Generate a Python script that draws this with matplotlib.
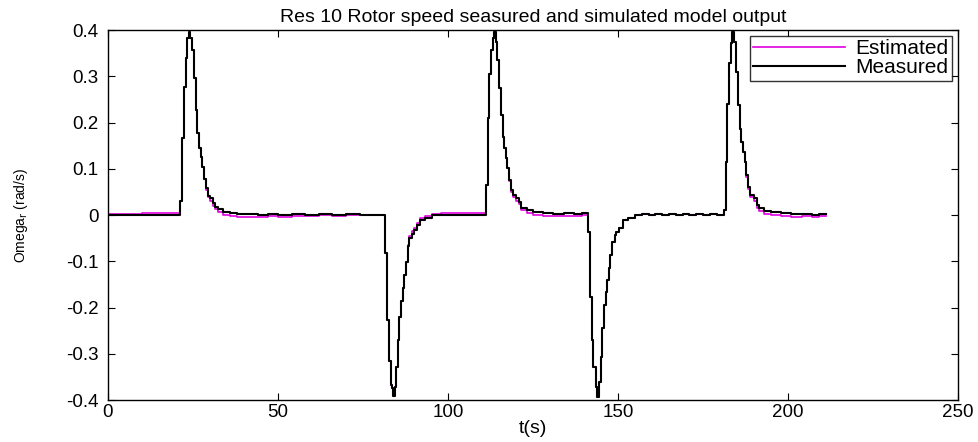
import matplotlib
matplotlib.use("Agg")
import matplotlib.pyplot as plt

plt.rcParams['font.family'] = ['Liberation Sans', 'DejaVu Sans']

# step breakpoints (s) and values
t = [0, 5, 10, 15, 18,
     21.2, 21.9, 22.5, 22.9, 23.3, 23.7, 24.1, 24.7, 25.2, 25.8, 26.3, 26.8, 27.3, 27.7,
     28.3, 28.8, 29.3, 30.0, 30.8, 31.5, 32.4, 33.9, 35.8, 38, 41, 44, 47, 50, 54, 58,
     62, 66, 70, 74, 78,
     81.5, 82.2, 82.6, 83.1, 83.6, 83.9, 84.4, 84.8, 85.2, 85.7, 86.2, 86.7, 87.1, 87.6,
     88.1, 88.6, 89.3, 90.0, 90.8, 91.8, 93.2, 95.2, 98, 101, 104, 107, 110,
     111.2, 111.7, 112.1, 112.6, 113.1, 113.6, 114.0, 114.5, 115.1, 115.6, 116.1, 116.6,
     117.1, 117.5, 118.0, 118.5, 119.2, 120.1, 120.9, 121.6, 123.1, 125.0, 128, 131, 134,
     137, 139.5,
     141.2, 141.7, 142.4, 142.8, 143.4, 143.9, 144.4, 144.9, 145.4, 145.9, 146.4, 146.8,
     147.4, 147.8, 148.3, 149.0, 149.4, 150.4, 151.4, 152.9, 154.9, 157, 159, 161, 163,
     165, 167, 169, 171, 173, 175, 177, 179,
     181.1, 181.7, 182.1, 182.6, 183.1, 183.6, 184.1, 184.6, 185.3, 185.8, 186.3, 186.8,
     187.3, 187.7, 188.2, 188.9, 190.0, 191.0, 191.6, 193.1, 195.1, 198, 201, 204, 207,
     209, 211.3]

measured = [0.0, 0.001, 0.0, 0.001, 0.0,
            0.031, 0.166, 0.277, 0.339, 0.382, 0.396, 0.382, 0.357, 0.296, 0.227, 0.177, 0.146, 0.126, 0.104,
            0.079, 0.058, 0.042, 0.036, 0.025, 0.018, 0.013, 0.007, 0.004, 0.002, 0.003, 0.001, 0.003, 0.001, 0.002, 0.001,
            0.002, 0.001, 0.002, 0.001, 0.001,
            -0.083, -0.227, -0.316, -0.368, -0.373, -0.391, -0.371, -0.328, -0.270, -0.220, -0.186, -0.157, -0.130, -0.101,
            -0.068, -0.050, -0.040, -0.033, -0.022, -0.011, -0.006, -0.001, 0.000, 0.001, 0.000, 0.001, 0.001,
            0.065, 0.209, 0.306, 0.357, 0.382, 0.395, 0.375, 0.335, 0.274, 0.216, 0.169, 0.144,
            0.123, 0.101, 0.076, 0.054, 0.043, 0.037, 0.029, 0.016, 0.011, 0.007, 0.004, 0.003, 0.004,
            0.003, 0.004,
            -0.036, -0.177, -0.270, -0.328, -0.371, -0.393, -0.360, -0.306, -0.245, -0.195, -0.166, -0.141,
            -0.115, -0.086, -0.058, -0.043, -0.036, -0.027, -0.011, -0.007, -0.001, 0.002, -0.001, 0.002, -0.001,
            0.002, -0.001, 0.002, -0.001, 0.002, -0.001, 0.002, 0.000,
            0.011, 0.115, 0.241, 0.328, 0.371, 0.395, 0.375, 0.310, 0.239, 0.187, 0.159, 0.137,
            0.115, 0.086, 0.061, 0.043, 0.036, 0.022, 0.015, 0.009, 0.006, 0.004, 0.002, 0.003, 0.001,
            0.002, 0.002]

estimated = [0.002, 0.003, 0.004, 0.004, 0.005,
             0.031, 0.166, 0.277, 0.339, 0.382, 0.396, 0.382, 0.357, 0.296, 0.227, 0.177, 0.146, 0.126, 0.104,
             0.079, 0.055, 0.038, 0.031, 0.020, 0.012, 0.007, 0.001, -0.003, -0.005, -0.004, -0.005, -0.003, -0.004, -0.002, -0.003,
             -0.001, -0.002, -0.001, 0.000, 0.000,
             -0.083, -0.227, -0.316, -0.368, -0.373, -0.391, -0.371, -0.328, -0.270, -0.220, -0.186, -0.157, -0.130, -0.101,
             -0.065, -0.046, -0.035, -0.028, -0.018, -0.007, -0.002, 0.003, 0.004, 0.005, 0.004, 0.005, 0.004,
             0.065, 0.209, 0.306, 0.357, 0.382, 0.395, 0.375, 0.335, 0.274, 0.216, 0.169, 0.144,
             0.123, 0.101, 0.073, 0.050, 0.038, 0.031, 0.023, 0.010, 0.005, 0.001, -0.002, -0.003, -0.002,
             -0.003, -0.001,
             -0.036, -0.177, -0.270, -0.328, -0.371, -0.393, -0.360, -0.306, -0.245, -0.195, -0.166, -0.141,
             -0.115, -0.086, -0.058, -0.043, -0.036, -0.027, -0.011, -0.007, 0.000, 0.003, 0.000, 0.003, 0.000,
             0.003, 0.000, 0.003, 0.000, 0.002, 0.000, 0.002, 0.000,
             0.011, 0.115, 0.241, 0.328, 0.371, 0.395, 0.375, 0.310, 0.239, 0.187, 0.159, 0.137,
             0.115, 0.083, 0.057, 0.038, 0.030, 0.016, 0.009, 0.003, -0.001, -0.003, -0.004, -0.003, -0.004,
             -0.003, -0.003]

xticks = [0, 50, 100, 150, 200, 250]
yticks = [-0.4, -0.3, -0.2, -0.1, 0, 0.1, 0.2, 0.3, 0.4]
ytick_labels = ['-0.4', '-0.3', '-0.2', '-0.1', '0', '0.1', '0.2', '0.3', '0.4']

fig = plt.figure(figsize=(9.79, 4.42), dpi=100)
ax = fig.add_axes([0.1103, 0.095, 0.8682, 0.837])

ax.plot(t, estimated, color='#e000e0', lw=1.2, drawstyle='steps-post', label='Estimated')
ax.plot(t, measured, color='black', lw=1.5, drawstyle='steps-post', label='Measured')

ax.set_xlim(0, 250)
ax.set_ylim(-0.4, 0.4)
ax.set_xticks(xticks)
ax.set_yticks(yticks)
ax.set_yticklabels(ytick_labels)
ax.tick_params(direction='in', top=True, right=True, length=5, labelsize=13.5)
ax.tick_params(axis='y', pad=7)
ax.tick_params(axis='x', pad=3)
for s in ax.spines.values():
    s.set_linewidth(1.0)

ax.set_title('Res 10 Rotor speed seasured and simulated model output', fontsize=14, pad=6)
ax.set_xlabel('t(s)', fontsize=14, labelpad=-1)
ax.set_ylabel(r'Omega$_\mathrm{r}$ (rad/s)', fontsize=10)
ax.yaxis.set_label_coords(-0.092, 0.5)

leg = ax.legend(loc='upper right', fontsize=15, frameon=True, fancybox=False,
                edgecolor='black', borderaxespad=0.3, handlelength=4.4,
                handletextpad=0.5, labelspacing=0.0, borderpad=0.15)
leg.get_frame().set_linewidth(1.0)

fig.savefig('out.png', dpi=100)
